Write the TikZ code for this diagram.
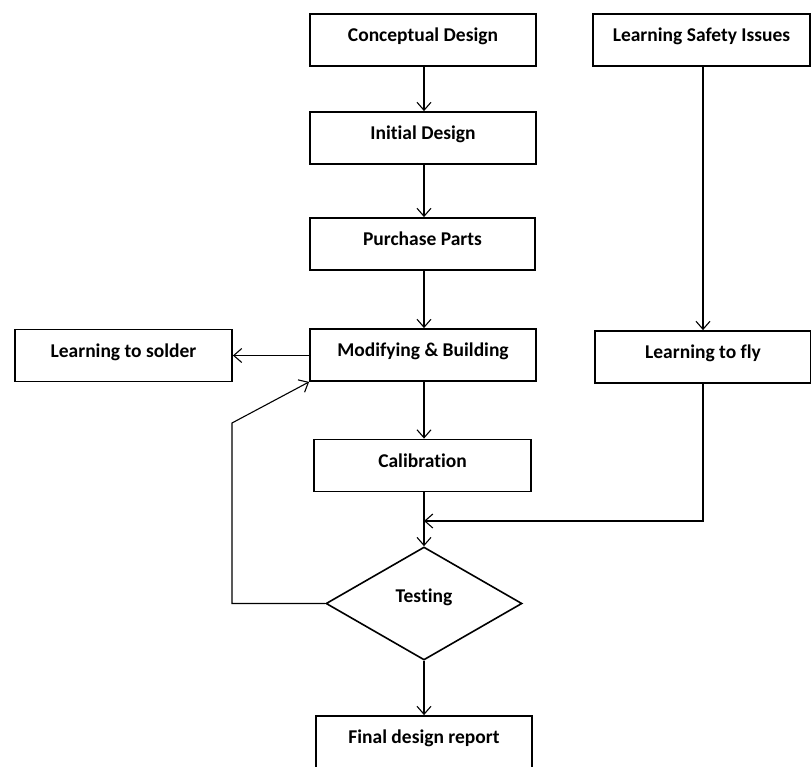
\documentclass[tikz,border=0pt]{standalone}
\usepackage{fontspec}
\setmainfont[RawFeature=-liga]{Carlito}
\usetikzlibrary{shapes.geometric,arrows.meta}
\begin{document}
\begin{tikzpicture}[x=1pt,y=-1pt,
  box/.style={draw,line width=1.8pt,rectangle,inner sep=0pt,
    minimum height=52pt,font=\bfseries\fontsize{19.5}{22}\selectfont,
    text height=16pt,text depth=13pt},
  dia/.style={draw,line width=1.6pt,diamond,inner sep=0pt,
    minimum width=196pt,minimum height=113pt,font=\bfseries\fontsize{19.5}{22}\selectfont,
    text height=14pt,text depth=17pt},
  arr/.style={line width=1.1pt,-{Straight Barb[length=8pt,width=14pt,line width=1.1pt]}},
  ln/.style={line width=1.1pt}]
\useasboundingbox (0,0) rectangle (811,767);
\node[box,minimum width=226pt] (cd) at (423,40) {Conceptual Design};
\node[box,minimum width=217pt] (si) at (701.5,40) {Learning Safety Issues};
\node[box,minimum width=226pt] (id) at (423,138) {Initial Design};
\node[box,minimum width=225pt] (pp) at (422.5,244) {Purchase Parts};
\node[box,minimum width=226pt] (mb) at (423,355) {Modifying \& Building};
\node[box,minimum width=217pt] (ls) at (123.5,355.5) {Learning to solder};
\node[box,minimum width=216pt] (lf) at (703,357) {Learning to fly};
\node[box,minimum width=217pt] (ca) at (422.5,465.5) {Calibration};
\node[dia] (te) at (424,603.5) {Testing};
\node[box,minimum width=216pt] (fr) at (424,742) {Final design report};
\coordinate (j) at (424,521);
\coordinate (fc) at (lf.south |- j);
\coordinate (l1) at (232,603.5);
\coordinate (l2) at (232,423);
\draw[arr] (cd.south -| te.north) -- (id.north -| te.north);
\draw[arr] (id.south -| te.north) -- (pp.north -| te.north);
\draw[arr] (pp.south -| te.north) -- (mb.north -| te.north);
\draw[arr] (mb.south -| te.north) -- (ca.north -| te.north);
\draw[arr] (ca.south -| te.north) -- (te);
\draw[arr] (te) -- (fr.north -| te.north);
\draw[arr] (si.south -| lf.north) -- (lf.north);
\draw[arr] (mb.west |- ls.east) -- (ls);
\draw[arr] (lf.south -| fc) -- (fc) -- (j);
\draw[arr] (te.west) -- (l1) -- (l2) -- (mb.south west);
\end{tikzpicture}
\end{document}
